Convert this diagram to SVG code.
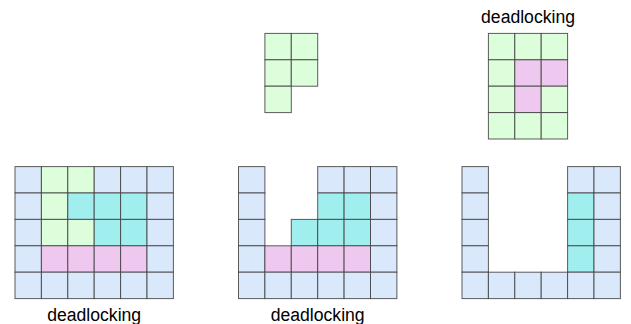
<svg xmlns="http://www.w3.org/2000/svg" width="631" height="324" viewBox="0 0 631 324">
  <style>
    rect { stroke: #3f3f3f; stroke-width: 1; stroke-opacity: 0.85; }
    .b { fill: #dae8fc; }
    .g { fill: #ddfedb; }
    .p { fill: #efc8ef; }
    .c { fill: #a0eeee; }
    text { font-family: "Liberation Sans", Arial, sans-serif; font-size: 17.6px; fill: #000; text-anchor: middle; }
  </style>

  <!-- loose piece, top middle -->
  <g id="piece-top" transform="translate(264.9,33.4)">
    <rect class="g" x="0" y="0" width="26.4" height="26.4"/>
    <rect class="g" x="26.4" y="0" width="26.4" height="26.4"/>
    <rect class="g" x="0" y="26.4" width="26.4" height="26.4"/>
    <rect class="g" x="26.4" y="26.4" width="26.4" height="26.4"/>
    <rect class="g" x="0" y="52.8" width="26.4" height="26.4"/>
  </g>

  <!-- 3x4 block with embedded piece, top right -->
  <g id="block-top-right" transform="translate(488.4,33.4)">
    <rect class="g" x="0" y="0" width="26.4" height="26.4"/>
    <rect class="g" x="26.4" y="0" width="26.4" height="26.4"/>
    <rect class="g" x="52.8" y="0" width="26.4" height="26.4"/>
    <rect class="g" x="0" y="26.4" width="26.4" height="26.4"/>
    <rect class="p" x="26.4" y="26.4" width="26.4" height="26.4"/>
    <rect class="p" x="52.8" y="26.4" width="26.4" height="26.4"/>
    <rect class="g" x="0" y="52.8" width="26.4" height="26.4"/>
    <rect class="p" x="26.4" y="52.8" width="26.4" height="26.4"/>
    <rect class="g" x="52.8" y="52.8" width="26.4" height="26.4"/>
    <rect class="g" x="0" y="79.2" width="26.4" height="26.4"/>
    <rect class="g" x="26.4" y="79.2" width="26.4" height="26.4"/>
    <rect class="g" x="52.8" y="79.2" width="26.4" height="26.4"/>
    <text x="39.6" y="-10.5">deadlocking</text>
  </g>

  <!-- board 1 -->
  <g id="board-1" transform="translate(15,166.6)">
    <rect class="b" x="0" y="0" width="26.4" height="26.4"/>
    <rect class="g" x="26.4" y="0" width="26.4" height="26.4"/>
    <rect class="g" x="52.8" y="0" width="26.4" height="26.4"/>
    <rect class="b" x="79.2" y="0" width="26.4" height="26.4"/>
    <rect class="b" x="105.6" y="0" width="26.4" height="26.4"/>
    <rect class="b" x="132" y="0" width="26.4" height="26.4"/>

    <rect class="b" x="0" y="26.4" width="26.4" height="26.4"/>
    <rect class="g" x="26.4" y="26.4" width="26.4" height="26.4"/>
    <rect class="c" x="52.8" y="26.4" width="26.4" height="26.4"/>
    <rect class="c" x="79.2" y="26.4" width="26.4" height="26.4"/>
    <rect class="c" x="105.6" y="26.4" width="26.4" height="26.4"/>
    <rect class="b" x="132" y="26.4" width="26.4" height="26.4"/>

    <rect class="b" x="0" y="52.8" width="26.4" height="26.4"/>
    <rect class="g" x="26.4" y="52.8" width="26.4" height="26.4"/>
    <rect class="g" x="52.8" y="52.8" width="26.4" height="26.4"/>
    <rect class="c" x="79.2" y="52.8" width="26.4" height="26.4"/>
    <rect class="c" x="105.6" y="52.8" width="26.4" height="26.4"/>
    <rect class="b" x="132" y="52.8" width="26.4" height="26.4"/>

    <rect class="b" x="0" y="79.2" width="26.4" height="26.4"/>
    <rect class="p" x="26.4" y="79.2" width="26.4" height="26.4"/>
    <rect class="p" x="52.8" y="79.2" width="26.4" height="26.4"/>
    <rect class="p" x="79.2" y="79.2" width="26.4" height="26.4"/>
    <rect class="p" x="105.6" y="79.2" width="26.4" height="26.4"/>
    <rect class="b" x="132" y="79.2" width="26.4" height="26.4"/>

    <rect class="b" x="0" y="105.6" width="26.4" height="26.4"/>
    <rect class="b" x="26.4" y="105.6" width="26.4" height="26.4"/>
    <rect class="b" x="52.8" y="105.6" width="26.4" height="26.4"/>
    <rect class="b" x="79.2" y="105.6" width="26.4" height="26.4"/>
    <rect class="b" x="105.6" y="105.6" width="26.4" height="26.4"/>
    <rect class="b" x="132" y="105.6" width="26.4" height="26.4"/>
    <text x="79.2" y="154">deadlocking</text>
  </g>

  <!-- board 2 -->
  <g id="board-2" transform="translate(238.5,166.6)">
    <rect class="b" x="0" y="0" width="26.4" height="26.4"/>
    <rect class="b" x="79.2" y="0" width="26.4" height="26.4"/>
    <rect class="b" x="105.6" y="0" width="26.4" height="26.4"/>
    <rect class="b" x="132" y="0" width="26.4" height="26.4"/>

    <rect class="b" x="0" y="26.4" width="26.4" height="26.4"/>
    <rect class="c" x="79.2" y="26.4" width="26.4" height="26.4"/>
    <rect class="c" x="105.6" y="26.4" width="26.4" height="26.4"/>
    <rect class="b" x="132" y="26.4" width="26.4" height="26.4"/>

    <rect class="b" x="0" y="52.8" width="26.4" height="26.4"/>
    <rect class="c" x="52.8" y="52.8" width="26.4" height="26.4"/>
    <rect class="c" x="79.2" y="52.8" width="26.4" height="26.4"/>
    <rect class="c" x="105.6" y="52.8" width="26.4" height="26.4"/>
    <rect class="b" x="132" y="52.8" width="26.4" height="26.4"/>

    <rect class="b" x="0" y="79.2" width="26.4" height="26.4"/>
    <rect class="p" x="26.4" y="79.2" width="26.4" height="26.4"/>
    <rect class="p" x="52.8" y="79.2" width="26.4" height="26.4"/>
    <rect class="p" x="79.2" y="79.2" width="26.4" height="26.4"/>
    <rect class="p" x="105.6" y="79.2" width="26.4" height="26.4"/>
    <rect class="b" x="132" y="79.2" width="26.4" height="26.4"/>

    <rect class="b" x="0" y="105.6" width="26.4" height="26.4"/>
    <rect class="b" x="26.4" y="105.6" width="26.4" height="26.4"/>
    <rect class="b" x="52.8" y="105.6" width="26.4" height="26.4"/>
    <rect class="b" x="79.2" y="105.6" width="26.4" height="26.4"/>
    <rect class="b" x="105.6" y="105.6" width="26.4" height="26.4"/>
    <rect class="b" x="132" y="105.6" width="26.4" height="26.4"/>
    <text x="79.2" y="154">deadlocking</text>
  </g>

  <!-- board 3 -->
  <g id="board-3" transform="translate(462,166.6)">
    <rect class="b" x="0" y="0" width="26.4" height="26.4"/>
    <rect class="b" x="105.6" y="0" width="26.4" height="26.4"/>
    <rect class="b" x="132" y="0" width="26.4" height="26.4"/>

    <rect class="b" x="0" y="26.4" width="26.4" height="26.4"/>
    <rect class="c" x="105.6" y="26.4" width="26.4" height="26.4"/>
    <rect class="b" x="132" y="26.4" width="26.4" height="26.4"/>

    <rect class="b" x="0" y="52.8" width="26.4" height="26.4"/>
    <rect class="c" x="105.6" y="52.8" width="26.4" height="26.4"/>
    <rect class="b" x="132" y="52.8" width="26.4" height="26.4"/>

    <rect class="b" x="0" y="79.2" width="26.4" height="26.4"/>
    <rect class="c" x="105.6" y="79.2" width="26.4" height="26.4"/>
    <rect class="b" x="132" y="79.2" width="26.4" height="26.4"/>

    <rect class="b" x="0" y="105.6" width="26.4" height="26.4"/>
    <rect class="b" x="26.4" y="105.6" width="26.4" height="26.4"/>
    <rect class="b" x="52.8" y="105.6" width="26.4" height="26.4"/>
    <rect class="b" x="79.2" y="105.6" width="26.4" height="26.4"/>
    <rect class="b" x="105.6" y="105.6" width="26.4" height="26.4"/>
    <rect class="b" x="132" y="105.6" width="26.4" height="26.4"/>
  </g>

  <!-- no connectors in this figure -->
  <g id="connectors"/>
</svg>
